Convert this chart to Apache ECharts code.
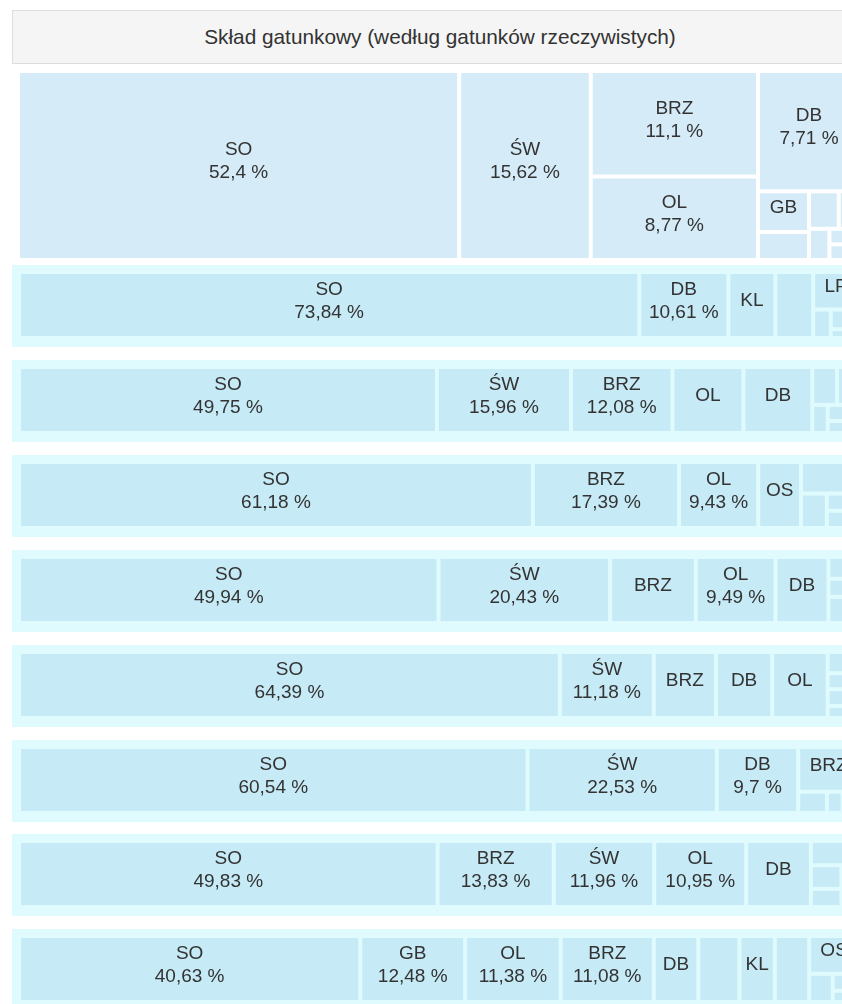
<!DOCTYPE html>
<html>
<head>
<meta charset="utf-8">
<title>Skład gatunkowy</title>
<style>
  html, body { margin: 0; padding: 0; background: #fff; overflow: hidden; }
  body { width: 842px; height: 1004px; position: relative; font-family: "Liberation Sans", Arial, sans-serif; }
  .head {
    position: absolute; left: 12px; top: 10px; width: 856px; height: 54px;
    box-sizing: border-box; border: 1px solid #dddddd; background: #f5f5f5;
    color: #333; font-size: 20.8px; line-height: 52px; text-align: center;
  }
  .main { position: absolute; left: 20px; top: 73px; width: 838px; height: 185px; }
  .band { position: absolute; left: 12px; width: 858px; height: 82px; background: #e0fbfe; }
  .band .tm { position: absolute; left: 9px; top: 9px; width: 836px; height: 62px; }
</style>
</head>
<body>
<div class="head">Skład gatunkowy (według gatunków rzeczywistych)</div>
<div id="tm0" class="main"></div>
<div id="bands"></div>

<script src="https://cdn.jsdelivr.net/npm/echarts@6/dist/echarts.min.js"></script>
<script>
// udział gatunków [%] - pierwszy wiersz to zestawienie ogólne
var rowNames = [
  ['SO', 'ŚW', 'BRZ', 'OL', 'DB', 'GB', 'OS', 'KL', 'LP', 'BK', 'JS', 'MD', 'WB', 'AK'],
  ['SO', 'DB', 'KL', 'BRZ', 'LP', 'OL', 'ŚW', 'GB', 'OS', 'BK'],
  ['SO', 'ŚW', 'BRZ', 'OL', 'DB', 'GB', 'KL', 'OS', 'LP', 'JS', 'MD', 'BK'],
  ['SO', 'BRZ', 'OL', 'OS', 'ŚW', 'DB', 'GB', 'KL', 'LP'],
  ['SO', 'ŚW', 'BRZ', 'OL', 'DB', 'GB', 'OS', 'KL', 'LP'],
  ['SO', 'ŚW', 'BRZ', 'DB', 'OL', 'GB', 'OS', 'KL', 'LP', 'JS', 'MD'],
  ['SO', 'ŚW', 'DB', 'BRZ', 'OL', 'GB', 'OS', 'KL'],
  ['SO', 'BRZ', 'ŚW', 'OL', 'DB', 'GB', 'OS', 'KL', 'LP', 'JS', 'MD', 'BK'],
  ['SO', 'GB', 'OL', 'BRZ', 'DB', 'ŚW', 'KL', 'LP', 'OS', 'JS', 'MD', 'BK']
];
var rowValues = [
  [52.4, 15.62, 11.1, 8.77, 7.71, 1.3, 0.9, 0.7, 0.5, 0.4, 0.3, 0.15, 0.1, 0.05],
  [73.84, 10.61, 5.6, 4.5, 3.1, 0.9, 0.6, 0.4, 0.25, 0.2],
  [49.75, 15.96, 12.08, 8.45, 8.2, 1.69, 1.5, 0.78, 0.6, 0.45, 0.3, 0.24],
  [61.18, 17.39, 9.43, 5.1, 3.3, 1.6, 1.0, 0.6, 0.4],
  [49.94, 20.43, 10.2, 9.49, 6.3, 1.2, 1.0, 0.7, 0.74],
  [64.39, 11.18, 7.4, 6.7, 6.6, 1.2, 0.9, 0.7, 0.5, 0.28, 0.15],
  [60.54, 22.53, 9.7, 4.9, 1.1, 0.6, 0.4, 0.23],
  [49.83, 13.83, 11.96, 10.95, 7.7, 2.1, 1.3, 1.0, 0.6, 0.4, 0.2, 0.13],
  [40.63, 12.48, 11.38, 11.08, 5.3, 4.9, 4.2, 4.1, 3.4, 1.2, 0.8, 0.53]
];
// 2 = nazwa i procent, 1 = tylko nazwa, 0 = bez etykiety
var rowLabels = [
  [2, 2, 2, 2, 2, 1, 0, 0, 0, 0, 0, 0, 0, 0],
  [2, 2, 1, 0, 1, 0, 0, 0, 0, 0],
  [2, 2, 2, 1, 1, 0, 0, 0, 0, 0, 0, 0],
  [2, 2, 2, 1, 0, 0, 0, 0, 0],
  [2, 2, 1, 2, 1, 0, 0, 0, 0],
  [2, 2, 1, 1, 1, 0, 0, 0, 0, 0, 0],
  [2, 2, 2, 1, 0, 0, 0, 0],
  [2, 2, 2, 2, 1, 0, 0, 0, 0, 0, 0, 0],
  [2, 2, 2, 2, 1, 0, 1, 0, 1, 0, 0, 0]
];

function makeOption(names, values, labels, cellColor, gapColor) {
  return {
    animation: false,
    color: [cellColor],
    series: [{
      type: 'treemap',
      left: 0, top: 0, right: 0, bottom: 0,
      roam: false,
      nodeClick: false,
      silent: true,
      breadcrumb: { show: false },
      squareRatio: 1.02,
      itemStyle: { color: cellColor, borderColor: gapColor, borderWidth: 0, gapWidth: 4 },
      label: {
        show: true,
        position: 'inside',
        padding: 0,
        offset: [0, -4],
        color: '#333',
        fontFamily: '"Liberation Sans", Arial, sans-serif',
        fontSize: 19,
        lineHeight: 23,
        formatter: function (p) {
          var m = p.data.lbl;
          if (m === 2) return p.name + '\n' + String(p.value).replace('.', ',') + ' %';
          if (m === 1) return p.name;
          return '';
        }
      },
      data: names.map(function (n, i) {
        return { name: n, value: values[i], lbl: labels[i] };
      })
    }]
  };
}

// wykres ogólny
var main = echarts.init(document.getElementById('tm0'));
main.setOption(makeOption(rowNames[0], rowValues[0], rowLabels[0], '#d5ebf8', '#ffffff'));

// pozostałe wiersze na jasnym tle
var bands = document.getElementById('bands');
for (var i = 1; i < rowNames.length; i++) {
  var band = document.createElement('div');
  band.className = 'band';
  band.style.top = Math.round(265 + (i - 1) * 94.9) + 'px';
  var el = document.createElement('div');
  el.className = 'tm';
  band.appendChild(el);
  bands.appendChild(band);
  var chart = echarts.init(el);
  chart.setOption(makeOption(rowNames[i], rowValues[i], rowLabels[i], '#c6eaf6', '#e0fbfe'));
}
</script>
</body>
</html>
